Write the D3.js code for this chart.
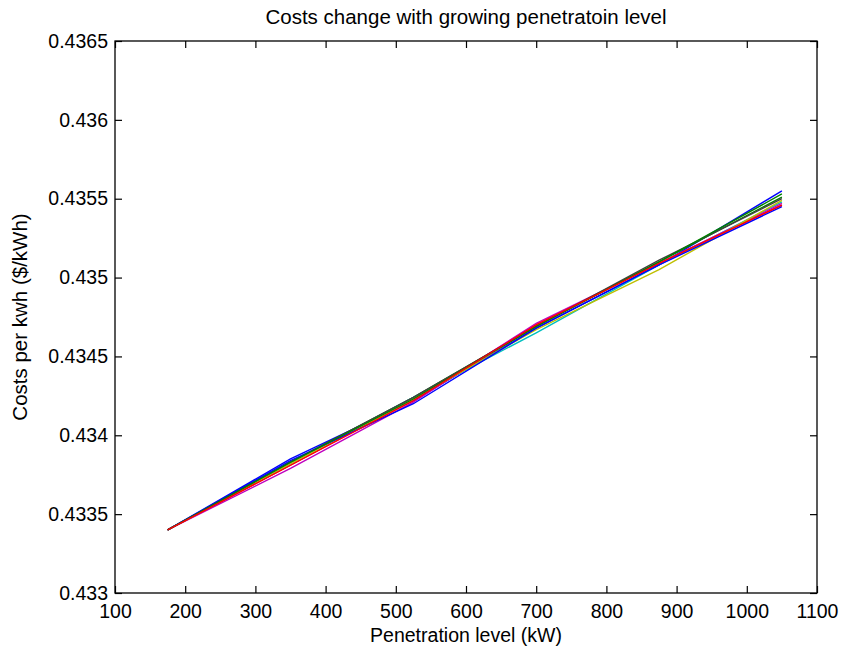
<!DOCTYPE html>
<html><head><meta charset="utf-8">
<script src="https://cdn.jsdelivr.net/npm/d3@7"></script>
<style>html,body{margin:0;padding:0;background:#fff;}</style>
</head><body>
<svg id="chart" width="844" height="656"></svg>
<script>
const xValues = [175, 350, 525, 700, 875, 1050];
const series1 = [0.43340, 0.43385, 0.43422, 0.43468, 0.43508, 0.43555];
const series2 = [0.43340, 0.43383, 0.43424, 0.43469, 0.43510, 0.43551];
const series3 = [0.43340, 0.43381, 0.43423, 0.43470, 0.43509, 0.43546];
const series4 = [0.43340, 0.43382, 0.43424, 0.43465, 0.43508, 0.43548];
const series5 = [0.43340, 0.43379, 0.43421, 0.43471, 0.43509, 0.43547];
const series6 = [0.43340, 0.43382, 0.43423, 0.43467, 0.43505, 0.43549];
const series7 = [0.43340, 0.43383, 0.43424, 0.43469, 0.43511, 0.43550];
const series8 = [0.43340, 0.43384, 0.43420, 0.43468, 0.43508, 0.43545];
const series9 = [0.43340, 0.43383, 0.43423, 0.43469, 0.43510, 0.43553];
const series10 = [0.43340, 0.43381, 0.43422, 0.43470, 0.43509, 0.43546];
const xTicks = [100, 200, 300, 400, 500, 600, 700, 800, 900, 1000, 1100];
const yTicks = [0.433, 0.4335, 0.434, 0.4345, 0.435, 0.4355, 0.436, 0.4365];
const titleText = "Costs change with growing penetratoin level";
const xLabel = "Penetration level (kW)";
const yLabel = "Costs per kwh ($/kWh)";

const allSeries = [series1, series2, series3, series4, series5, series6, series7, series8, series9, series10];
const colors = ["#0000ff", "#008000", "#ff0000", "#00bfbf", "#bf00bf", "#bfbf00", "#404040"];

const svg = d3.select("#chart");
const W = 844, H = 656;
const m = {left: 115, right: W - 817, top: 41, bottom: H - 593};
const x = d3.scaleLinear().domain([100, 1100]).range([m.left, W - m.right]);
const y = d3.scaleLinear().domain([0.433, 0.4365]).range([H - m.bottom, m.top]);
const font = "Liberation Sans, Arial, Helvetica, sans-serif";
const fs = 19.5;
const fmt = d => String(+d.toFixed(4));
const tl = 7;

const line = d3.line().x((d, i) => x(xValues[i])).y(d => y(d));
const g = svg.append("g");
allSeries.forEach((s, i) => {
  g.append("path").datum(s).attr("d", line).attr("fill", "none")
    .attr("stroke", colors[i % colors.length]).attr("stroke-width", 1.4);
});

function styleAxis(sel, showText) {
  sel.select(".domain").remove();
  sel.selectAll(".tick line").attr("stroke", "#000").attr("stroke-width", 1.2);
  sel.selectAll(".tick text").attr("font-family", font).attr("font-size", fs).attr("fill", "#000");
  if (!showText) sel.selectAll(".tick text").remove();
}
const xb = svg.append("g").attr("transform", `translate(0,${y(0.433)})`)
  .call(d3.axisBottom(x).tickValues(xTicks).tickSize(-tl).tickPadding(11).tickFormat(d => d));
styleAxis(xb, true);
const xt = svg.append("g").attr("transform", `translate(0,${y(0.4365)})`)
  .call(d3.axisTop(x).tickValues(xTicks).tickSize(-tl));
styleAxis(xt, false);
const yl = svg.append("g").attr("transform", `translate(${x(100)},0)`)
  .call(d3.axisLeft(y).tickValues(yTicks).tickSize(-tl).tickPadding(7).tickFormat(fmt));
styleAxis(yl, true);
const yr = svg.append("g").attr("transform", `translate(${x(1100)},0)`)
  .call(d3.axisRight(y).tickValues(yTicks).tickSize(-tl));
styleAxis(yr, false);

svg.append("rect").attr("x", x(100)).attr("y", y(0.4365))
  .attr("width", x(1100) - x(100)).attr("height", y(0.433) - y(0.4365))
  .attr("fill", "none").attr("stroke", "#000").attr("stroke-width", 1.3);

svg.append("text").attr("x", (x(100) + x(1100)) / 2).attr("y", 24)
  .attr("text-anchor", "middle").attr("font-family", font).attr("font-size", 20.5).text(titleText);
svg.append("text").attr("x", (x(100) + x(1100)) / 2).attr("y", 642)
  .attr("text-anchor", "middle").attr("font-family", font).attr("font-size", fs).text(xLabel);
svg.append("text").attr("transform", `translate(27,${(y(0.433) + y(0.4365)) / 2}) rotate(-90)`)
  .attr("text-anchor", "middle").attr("font-family", font).attr("font-size", 20.5).text(yLabel);
</script>
</body></html>
